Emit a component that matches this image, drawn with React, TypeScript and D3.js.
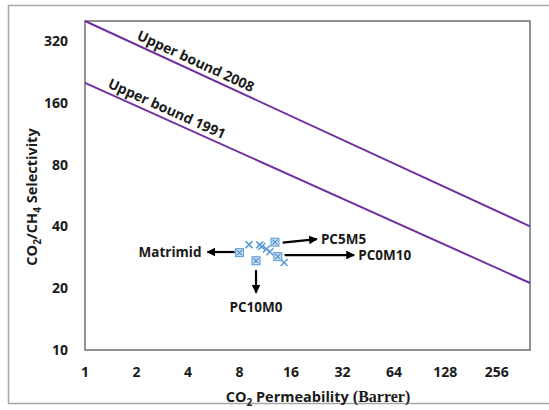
import React, { useRef, useEffect } from "react";
import * as d3 from "d3";

// axis ticks
const xTicks = [1, 2, 4, 8, 16, 32, 64, 128, 256];
const yTicks = [10, 20, 40, 80, 160, 320];

// upper bound lines (permeability, selectivity)
const bound2008 = [[1, 400], [400, 40]];
const bound1991 = [[1, 200], [400, 21.2]];

// membranes (square markers)
const squareP = [8.0, 12.9, 13.4, 10.0];
const squareS = [29.8, 33.5, 28.5, 27.2];

// other samples (x markers)
const crossP = [9.1, 10.5, 10.8, 11.5, 12.05, 14.6];
const crossS = [32.6, 32.5, 31.9, 31.0, 30.1, 26.7];

// annotations: arrow from -> to, then label
const notes = [
  { text: "Matrimid", from: [7.5, 30.0], to: [5.2, 30.0], anchor: "end" },
  { text: "PC5M5", from: [14.3, 33.3], to: [22.7, 34.7], anchor: "start" },
  { text: "PC0M10", from: [14.7, 29.0], to: [37.5, 29.0], anchor: "start" },
  { text: "PC10M0", from: [10.0, 24.5], to: [10.0, 19.0], anchor: "middle" },
];

export default function App() {
  const ref = useRef<SVGSVGElement>(null);

  useEffect(() => {
    const left = 85, right = 530, top = 21, bottom = 350;
    const font = "'Open Sans', 'Liberation Sans', sans-serif";
    const purple = "#7030A0";
    const blue = "#5B9BD5";

    const svg = d3.select(ref.current);
    svg.selectAll("*").remove();

    const x = d3.scaleLog().base(2).domain([1, 400]).range([left, right]);
    const y = d3.scaleLog().base(2).domain([10, 400]).range([bottom, top]);

    // outer frame (right side runs off the page)
    svg.append("rect")
      .attr("x", 8.5).attr("y", 5.5)
      .attr("width", 600).attr("height", 398)
      .attr("fill", "white").attr("stroke", "#a6a6a6").attr("stroke-width", 1.5);

    svg.append("rect")
      .attr("x", left).attr("y", top)
      .attr("width", right - left).attr("height", bottom - top)
      .attr("fill", "none").attr("stroke", "#6f6f6f").attr("stroke-width", 1.5);

    // tick labels
    svg.append("g").selectAll("text").data(xTicks).enter().append("text")
      .attr("x", d => x(d)).attr("y", 377)
      .attr("text-anchor", "middle")
      .attr("font-family", font).attr("font-weight", "bold").attr("font-size", 14)
      .attr("fill", "#1a1a1a")
      .text(d => d);

    svg.append("g").selectAll("text").data(yTicks).enter().append("text")
      .attr("x", 68).attr("y", d => y(d) + 5)
      .attr("text-anchor", "end")
      .attr("font-family", font).attr("font-weight", "bold").attr("font-size", 14)
      .attr("fill", "#1a1a1a")
      .text(d => d);

    // axis titles
    const xt = svg.append("text")
      .attr("x", 318).attr("y", 402)
      .attr("text-anchor", "middle")
      .attr("font-family", font).attr("font-weight", "bold").attr("font-size", 14.5)
      .attr("fill", "#1a1a1a");
    xt.append("tspan").text("CO");
    xt.append("tspan").attr("font-size", 10).attr("dy", 4).text("2");
    xt.append("tspan").attr("dy", -4).text(" Permeability");
    xt.append("tspan").attr("font-family", "'Liberation Serif', serif").attr("font-size", 16).text(" (Barrer)");

    const yt = svg.append("text")
      .attr("transform", "translate(37,197) rotate(-90)")
      .attr("text-anchor", "middle")
      .attr("font-family", font).attr("font-weight", "bold").attr("font-size", 14.5)
      .attr("fill", "#1a1a1a");
    yt.append("tspan").text("CO");
    yt.append("tspan").attr("font-size", 10).attr("dy", 4).text("2");
    yt.append("tspan").attr("dy", -4).text("/CH");
    yt.append("tspan").attr("font-size", 10).attr("dy", 4).text("4");
    yt.append("tspan").attr("dy", -4).text(" Selectivity");

    // upper bounds
    const line = d3.line<number[]>().x(d => x(d[0])).y(d => y(d[1]));
    [[bound2008, "Upper bound 2008", 4.2], [bound1991, "Upper bound 1991", 2.85]].forEach(([pts, label, at]: any) => {
      svg.append("path").attr("d", line(pts))
        .attr("fill", "none").attr("stroke", purple).attr("stroke-width", 2);
      const [p0, p1] = pts;
      const ang = Math.atan2(y(p1[1]) - y(p0[1]), x(p1[0]) - x(p0[0])) * 180 / Math.PI;
      const t = Math.log(at / p0[0]) / Math.log(p1[0] / p0[0]);
      const vy = Math.exp(Math.log(p0[1]) + t * (Math.log(p1[1]) - Math.log(p0[1])));
      svg.append("text")
        .attr("transform", `translate(${x(at)},${y(vy)}) rotate(${ang}) translate(0,-5)`)
        .attr("text-anchor", "middle")
        .attr("font-family", font).attr("font-weight", "bold").attr("font-size", 14)
        .attr("fill", "#1a1a1a")
        .text(label);
    });

    // arrows
    const defs = svg.append("defs");
    defs.append("marker").attr("id", "ah")
      .attr("viewBox", "0 0 10 10").attr("refX", 9).attr("refY", 5)
      .attr("markerWidth", 4).attr("markerHeight", 4).attr("orient", "auto")
      .append("path").attr("d", "M0,0L10,5L0,10Z").attr("fill", "black");

    notes.forEach(n => {
      const x1 = x(n.from[0]), y1 = y(n.from[1]), x2 = x(n.to[0]), y2 = y(n.to[1]);
      svg.append("line")
        .attr("x1", x1).attr("y1", y1).attr("x2", x2).attr("y2", y2)
        .attr("stroke", "black").attr("stroke-width", 2.2)
        .attr("marker-end", "url(#ah)");
      let tx = x2, ty = y2 + 5;
      if (n.anchor === "end") tx = x2 - 6;
      else if (n.anchor === "start") tx = x2 + 4;
      else ty = y2 + 19;
      svg.append("text")
        .attr("x", tx).attr("y", ty)
        .attr("text-anchor", n.anchor)
        .attr("font-family", font).attr("font-weight", "bold").attr("font-size", 13.5)
        .attr("fill", "#1a1a1a")
        .text(n.text);
    });

    // cross markers
    const cross = svg.append("g");
    crossP.forEach((p, i) => {
      const cx = x(p), cy = y(crossS[i]);
      cross.append("path")
        .attr("d", `M${cx - 3.5},${cy - 3.5}L${cx + 3.5},${cy + 3.5}M${cx - 3.5},${cy + 3.5}L${cx + 3.5},${cy - 3.5}`)
        .attr("stroke", blue).attr("stroke-width", 1.5);
    });

    // square markers
    const sq = svg.append("g");
    squareP.forEach((p, i) => {
      const cx = x(p), cy = y(squareS[i]);
      sq.append("rect")
        .attr("x", cx - 4).attr("y", cy - 4).attr("width", 8).attr("height", 8)
        .attr("fill", "#BDD7EE").attr("stroke", blue).attr("stroke-width", 1);
      sq.append("path")
        .attr("d", `M${cx - 2.5},${cy - 2.5}L${cx + 2.5},${cy + 2.5}M${cx - 2.5},${cy + 2.5}L${cx + 2.5},${cy - 2.5}`)
        .attr("stroke", "#2E75B6").attr("stroke-width", 1);
    });
  }, []);

  return (
    <svg ref={ref} width={549} height={410}
      style={{ position: "absolute", left: 0, top: 0, background: "white" }} />
  );
}
